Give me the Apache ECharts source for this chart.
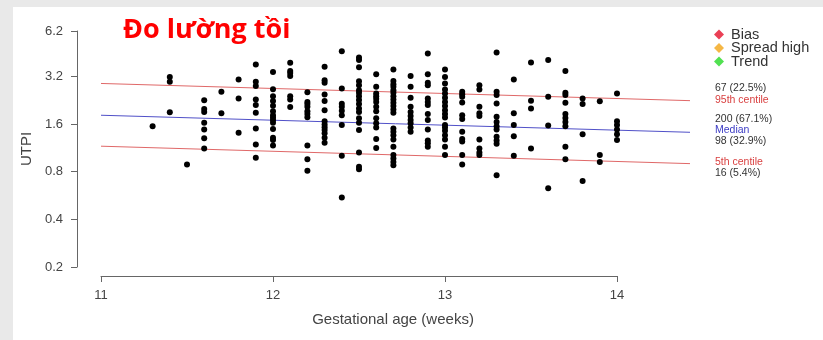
<!DOCTYPE html>
<html>
<head>
<meta charset="utf-8">
<script src="https://cdn.jsdelivr.net/npm/echarts@6/dist/echarts.min.js"></script>
<style>
  html, body { margin: 0; padding: 0; background: #e9e9e9; }
  #chart { width: 823px; height: 340px; }
</style>
</head>
<body>
<div id="chart"></div>
<script>
// Gestational age columns (weeks) and the UTPI readings recorded at each
const ageWeeks = [11.3, 11.4, 11.5, 11.6, 11.7, 11.8, 11.9, 12.0, 12.1, 12.2, 12.3, 12.4, 12.5, 12.6, 12.7,
                  12.8, 12.9, 13.0, 13.1, 13.2, 13.3, 13.4, 13.5, 13.6, 13.7, 13.8, 13.9, 14.0, 14.1];
const utpiByAge = [
  [1.55],
  [3.18, 2.96, 1.90],
  [0.89],
  [2.26, 1.99, 1.91, 1.63, 1.48, 1.30, 1.12],
  [2.56, 1.87],
  [3.06, 2.32, 1.41],
  [3.81, 2.96, 2.79, 2.29, 2.11, 1.89, 1.50, 1.19, 0.98],
  [3.41, 2.66, 2.40, 2.24, 2.09, 1.93, 1.82, 1.76, 1.70, 1.63, 1.49, 1.31, 1.27, 1.17],
  [3.90, 3.47, 3.37, 3.22, 2.40, 2.29, 2.05],
  [2.54, 2.21, 2.14, 2.06, 1.93, 1.85, 1.77, 1.17, 0.96, 0.81],
  [3.68, 3.03, 2.92, 2.46, 2.24, 1.96, 1.67, 1.59, 1.53, 1.47, 1.40, 1.31, 1.22],
  [4.62, 2.69, 2.15, 2.06, 1.94, 1.82, 1.58, 1.01, 0.55],
  [4.22, 4.06, 3.66, 2.98, 2.82, 2.62, 2.52, 2.40, 2.27, 2.14, 2.01, 1.91, 1.74, 1.63, 1.47, 1.06, 0.86, 0.83],
  [3.30, 2.75, 2.50, 2.40, 2.31, 2.21, 2.06, 1.93, 1.74, 1.62, 1.52, 1.29, 1.13],
  [3.54, 2.99, 2.86, 2.75, 2.62, 2.52, 2.40, 2.29, 2.18, 2.08, 1.98, 1.89, 1.50, 1.43, 1.36, 1.28, 1.15, 1.02, 0.97, 0.92, 0.88],
  [3.22, 2.75, 2.35, 2.06, 1.91, 1.80, 1.70, 1.62, 1.52, 1.43],
  [4.47, 3.31, 2.92, 2.82, 2.32, 2.21, 2.11, 1.85, 1.70, 1.48, 1.26, 1.21, 1.15],
  [3.54, 3.18, 2.89, 2.65, 2.50, 2.35, 2.21, 2.08, 1.96, 1.85, 1.76, 1.58, 1.52, 1.45, 1.36, 1.28, 1.15, 1.02],
  [2.56, 2.47, 2.38, 2.19, 1.82, 1.72, 1.43, 1.29, 1.24, 1.02, 0.89],
  [2.82, 2.65, 2.06, 1.87, 1.80, 1.28, 1.12, 1.06, 1.02],
  [4.54, 2.56, 2.44, 2.16, 1.78, 1.65, 1.55, 1.48, 1.33, 1.26, 1.20, 0.76],
  [3.06, 1.87, 1.58, 1.34, 1.01],
  [3.92, 2.25, 2.01, 1.12],
  [4.06, 2.38, 1.57, 0.63],
  [3.46, 2.52, 2.44, 2.18, 1.85, 1.75, 1.65, 1.55, 1.15, 0.96],
  [2.32, 2.14, 1.38, 0.70],
  [2.23, 1.02, 0.92],
  [2.50, 1.67, 1.58, 1.48, 1.38, 1.27],
  [2.82, 2.30, 2.09, 1.70, 1.63, 1.43, 1.05]
];

// Fitted centile lines: UTPI at the start and end of the fitted age range
const centileAges = [11, 14.42];
const centile95 = [2.89, 2.25];
const centileMedian = [1.82, 1.42];
const centile5 = [1.16, 0.90];

// Axis tick labels
const xTicks = [11, 12, 13, 14];
const yTicks = [0.2, 0.4, 0.8, 1.6, 3.2, 6.2];

// Right-hand summary text
const summaryLines = [
  { text: '67 (22.5%)', color: '#333333' },
  { text: '95th centile', color: '#d94040' },
  { text: '200 (67.1%)', color: '#333333' },
  { text: 'Median', color: '#3b3bc4' },
  { text: '98 (32.9%)', color: '#333333' },
  { text: '5th centile', color: '#d94040' },
  { text: '16 (5.4%)', color: '#333333' }
];
const summaryY = [89, 101, 120, 131, 142, 163, 174];

const legendNames = ['Bias', 'Spread high', 'Trend'];
const legendColors = ['#e5102a', '#f2a516', '#26d926'];

// UTPI is plotted on a base-2 log scale
const lg = v => Math.log2(v);

const points = [];
ageWeeks.forEach((age, i) => {
  utpiByAge[i].forEach(v => points.push([age, lg(v)]));
});

const lineData = vals => centileAges.map((a, i) => [a, lg(vals[i])]);

const chart = echarts.init(document.getElementById('chart'), null, { renderer: 'canvas' });

const textFont = '"Liberation Sans", Arial, sans-serif';
const yMin = lg(yTicks[0]);
const yMax = lg(yTicks[yTicks.length - 1]);

const centileLine = (name, vals, color) => ({
  name, type: 'line', data: lineData(vals), xAxisIndex: 1, yAxisIndex: 1, silent: true,
  symbol: 'none', lineStyle: { color, width: 1 }, z: 1
});

const option = {
  backgroundColor: '#e9e9e9',
  animation: false,
  textStyle: { fontFamily: textFont },
  grid: [
    { left: 101, right: 206, top: 31, bottom: 73 },
    // wider plotting region for the fitted centile lines
    { left: 101, right: 133, top: 31, bottom: 73 }
  ],
  title: {
    text: 'Đo lường tồi',
    left: 118,
    top: 12,
    textStyle: { color: '#ff0000', fontSize: 27, fontWeight: 'bold', fontFamily: '"Open Sans", "Noto Sans", sans-serif' }
  },
  legend: {
    orient: 'vertical',
    left: 709,
    top: 22,
    itemGap: -1.5,
    itemWidth: 10,
    itemHeight: 10,
    icon: 'diamond',
    selectedMode: false,
    data: legendNames,
    textStyle: { fontSize: 14.5, color: '#333', lineHeight: 13, padding: [0, 0, 0, 2] }
  },
  xAxis: [
    {
      type: 'value',
      gridIndex: 0,
      min: 11,
      max: 14,
      interval: 1,
      offset: 9,
      name: 'Gestational age (weeks)',
      nameLocation: 'middle',
      nameGap: 36,
      nameTextStyle: { fontSize: 15, color: '#444', padding: [0, 0, 0, 68] },
      axisLine: { onZero: false, lineStyle: { color: '#666', width: 1 } },
      axisTick: { show: true, inside: false, length: 6, lineStyle: { color: '#666' } },
      axisLabel: { fontSize: 13, color: '#444', margin: 13, formatter: v => xTicks.includes(v) ? String(v) : '' },
      splitLine: { show: false }
    },
    {
      type: 'value', gridIndex: 1, min: centileAges[0], max: centileAges[1], show: false
    }
  ],
  yAxis: [
    {
      type: 'value',
      gridIndex: 0,
      min: yMin,
      max: yMax,
      offset: 24,
      name: 'UTPI',
      nameLocation: 'middle',
      nameRotate: 90,
      nameGap: 40,
      nameTextStyle: { fontSize: 15, color: '#444' },
      axisLine: { show: true, onZero: false, lineStyle: { color: '#666', width: 1 } },
      axisTick: { show: true, inside: false, length: 6, lineStyle: { color: '#666' }, customValues: yTicks.map(lg) },
      axisLabel: {
        fontSize: 13, color: '#444', margin: 14,
        customValues: yTicks.map(lg),
        formatter: v => String(+Math.pow(2, v).toFixed(1))
      },
      splitLine: { show: false }
    },
    {
      type: 'value', gridIndex: 1, min: yMin, max: yMax, show: false
    }
  ],
  series: [
    centileLine('p95', centile95, '#e06868'),
    centileLine('median', centileMedian, '#5050c8'),
    centileLine('p5', centile5, '#e06868'),
    {
      name: 'UTPI', type: 'scatter', data: points, symbol: 'circle', symbolSize: 6,
      itemStyle: { color: '#000', opacity: 1 }, z: 3
    },
    ...legendNames.map((n, i) => ({
      name: n, type: 'scatter', data: [], itemStyle: { color: legendColors[i] }
    }))
  ],
  graphic: [
    {
      type: 'rect', z: -10, silent: true,
      shape: { x: 13, y: 7, width: 823, height: 340 },
      style: { fill: '#ffffff' }
    },
    ...summaryLines.map((s, i) => ({
      type: 'text', left: 715, top: summaryY[i] - 6, silent: true,
      style: { text: s.text, fill: s.color, font: '10.5px ' + textFont }
    }))
  ]
};

chart.setOption(option);
</script>
</body>
</html>
